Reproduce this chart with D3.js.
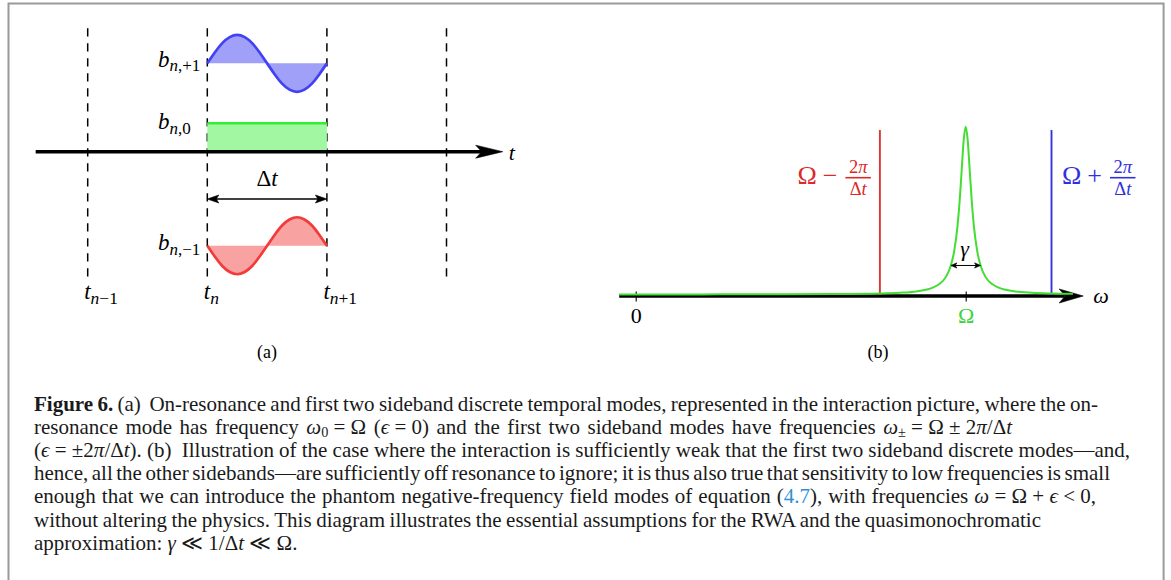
<!DOCTYPE html>
<html><head><meta charset="utf-8">
<script src="https://cdn.jsdelivr.net/npm/d3@7"></script>
<style>
html,body{margin:0;padding:0;background:#fff;}
svg{display:block;}
text{white-space:pre;}
</style></head>
<body><svg id="fig" width="1171" height="580"></svg>
<script>
// ================= DATA =================
// Panel (a): discrete temporal modes
const boundaryTimes = [-1, 0, 1, 2];                  // t_{n-1}, t_n, t_{n+1}, t_{n+2} (units of Δt from t_n)
const boundaryLabels = ["n−1", "n", "n+1", null];
const waveTimes  = [0, 0.0625, 0.125, 0.1875, 0.25, 0.3125, 0.375, 0.4375, 0.5, 0.5625, 0.625, 0.6875, 0.75, 0.8125, 0.875, 0.9375, 1];
const modePlus   = [0, 0.38, 0.71, 0.92, 1, 0.92, 0.71, 0.38, 0, -0.38, -0.71, -0.92, -1, -0.92, -0.71, -0.38, 0];
const modeZero   = [1, 1, 1, 1, 1, 1, 1, 1, 1, 1, 1, 1, 1, 1, 1, 1, 1];
const modeMinus  = [0, -0.38, -0.71, -0.92, -1, -0.92, -0.71, -0.38, 0, 0.38, 0.71, 0.92, 1, 0.92, 0.71, 0.38, 0];
const modeNames  = [",+1", ",0", ",−1"];
const modeLevels = [3.1, 0, -3.3];

// Panel (b): spectrum
const specOmega = [-0.5, 0, 2, 4, 6, 7.4, 8, 8.5, 9, 9.2, 9.4, 9.55, 9.65, 9.75, 9.82, 9.88, 9.94, 10,
                   10.06, 10.12, 10.18, 10.25, 10.35, 10.45, 10.6, 10.8, 11, 11.5, 12, 12.6, 13.25];
const specValue = [0.0004, 0.0004, 0.0007, 0.0012, 0.0026, 0.0062, 0.0105, 0.0185, 0.0407, 0.062, 0.105, 0.173, 0.257, 0.404, 0.567, 0.746, 0.922, 1,
                   0.922, 0.746, 0.567, 0.404, 0.257, 0.173, 0.105, 0.062, 0.0407, 0.0185, 0.0105, 0.0062, 0.004];
const sidebandOmega  = [7.4, 12.6];
const sidebandHeight = [0.98, 0.98];
const tickOmega  = [0, 10];
const tickLabels = ["0", "Ω"];
const gammaHalfWidth = 0.45;
const gammaLevel = 0.173;

// Caption  (\u2005 = math space around relations / binary operators)
const R = "\u2005", B = "\u2005";
const captionLines = [
  [["Figure 6.", "b"], [" (a)\u00A0 On-resonance and first two sideband discrete temporal modes, represented in the interaction picture, where the on-", ""]],
  [["resonance mode has frequency ", ""], ["ω", "i"], ["0", "s"], [R + "=" + R + "Ω (", ""], ["ϵ", "i"], [R + "=" + R + "0) and the first two sideband modes have frequencies ", ""], ["ω", "i"], ["±", "s"], [R + "=" + R + "Ω" + B + "±" + B + "2", ""], ["π", "i"], ["/Δ", ""], ["t", "i"]],
  [["(", ""], ["ϵ", "i"], [R + "=" + R + "±2", ""], ["π", "i"], ["/Δ", ""], ["t", "i"], ["). (b)\u00A0 Illustration of the case where the interaction is sufficiently weak that the first two sideband discrete modes—and,", ""]],
  [["hence, all the other sidebands—are sufficiently off resonance to ignore; it is thus also true that sensitivity to low frequencies is small", ""]],
  [["enough that we can introduce the phantom negative-frequency field modes of equation (", ""], ["4.7", "l"], ["), with frequencies ", ""], ["ω", "i"], [R + "=" + R + "Ω" + B + "+" + B, ""], ["ϵ", "i"], [R + "<" + R + "0,", ""]],
  [["without altering the physics. This diagram illustrates the essential assumptions for the RWA and the quasimonochromatic", ""]],
  [["approximation: ", ""], ["γ", "i"], [R + "≪" + R + "1/Δ", ""], ["t", "i"], [R + "≪" + R + "Ω.", ""]]
];
const captionEnds = [1098, 1012, 1130, 1110, 1096, 1041, null];

// ================= DRAWING =================
const SERIF = "'Liberation Serif','DejaVu Serif',serif";
const svg = d3.select("#fig");

// frame
svg.append("path").attr("d", "M8.5,580V3.6H1163.6V580")
  .attr("fill", "none").attr("stroke", "#9a9a9a").attr("stroke-width", 2);

function stealth(g, x, y, dir, len, half, notch, color) {
  const p = d3.path();
  p.moveTo(x, y);
  p.lineTo(x - dir * len, y - half);
  p.lineTo(x - dir * (len - notch), y);
  p.lineTo(x - dir * len, y + half);
  p.closePath();
  g.append("path").attr("d", p.toString()).attr("fill", color).attr("stroke", color).attr("stroke-width", 0.6).attr("stroke-linejoin", "miter");
}

function math(g, x, y, parts, size, anchor, fill, subShift, subRatio) {
  const t = g.append("text").attr("x", x).attr("y", y)
    .attr("font-family", SERIF).attr("font-size", size)
    .attr("text-anchor", anchor || "start").attr("fill", fill || "#000");
  let shift = 0;
  parts.forEach(p => {
    const s = p.sub ? (subShift || size * 0.22) : 0;
    t.append("tspan").attr("dy", s - shift)
      .attr("font-size", p.sub ? size * (subRatio || 0.72) : size)
      .attr("font-style", p.it ? "italic" : "normal")
      .text(p.t);
    shift = s;
  });
  return t;
}

// ---------- Panel (a) ----------
const gA = svg.append("g");
const xA = d3.scaleLinear().domain([0, 1]).range([207.3, 326.9]);
const yA = d3.scaleLinear().domain([0, 1]).range([151.7, 123.2]);

// dashed boundaries
gA.selectAll("line.bd").data(boundaryTimes).join("line")
  .attr("x1", d => xA(d)).attr("x2", d => xA(d))
  .attr("y1", yA(4.33)).attr("y2", yA(-4.5))
  .attr("stroke", "#000").attr("stroke-width", 1.5).attr("stroke-dasharray", "8.3,6.7");

const modes = [
  {vals: modePlus,  level: modeLevels[0], name: modeNames[0], line: "#4242f2", fill: "#a0a0f8", curve: d3.curveNatural, lw: 2.7},
  {vals: modeZero,  level: modeLevels[1], name: modeNames[1], line: "#33ee33", fill: "#a2f8a2", curve: d3.curveLinear,  lw: 2.4},
  {vals: modeMinus, level: modeLevels[2], name: modeNames[2], line: "#f23c3c", fill: "#f8a2a2", curve: d3.curveNatural, lw: 2.7}
];
modes.forEach(m => {
  const pts = waveTimes.map((t, i) => [t, m.vals[i]]);
  const area = d3.area().x(d => xA(d[0])).y0(yA(m.level)).y1(d => yA(m.level + d[1])).curve(m.curve);
  gA.append("path").attr("d", area(pts)).attr("fill", m.fill);
  const line = d3.line().x(d => xA(d[0])).y(d => yA(m.level + d[1])).curve(m.curve);
  gA.append("path").attr("d", line(pts)).attr("fill", "none").attr("stroke", m.line)
    .attr("stroke-width", m.lw).attr("stroke-linecap", "butt");
});

// time axis
gA.append("line").attr("x1", xA(-1.435)).attr("x2", xA(2.3)).attr("y1", yA(0)).attr("y2", yA(0))
  .attr("stroke", "#000").attr("stroke-width", 3.4);
stealth(gA, xA(2.47), yA(0), 1, 27, 6.5, 6, "#000");
math(gA, xA(2.52), 160, [{t: "t", it: true}], 22);

// Δt arrow
const yDt = 199;
gA.append("line").attr("x1", xA(0) + 4).attr("x2", xA(1) - 4).attr("y1", yDt).attr("y2", yDt)
  .attr("stroke", "#000").attr("stroke-width", 1.7);
stealth(gA, xA(1), yDt, 1, 11.5, 4, 2.5, "#000");
stealth(gA, xA(0), yDt, -1, 11.5, 4, 2.5, "#000");
math(gA, xA(0.5), 186, [{t: "Δ"}, {t: "t", it: true}], 23, "middle");

// mode labels
const modeLabelY = [66.5, 129, 250];
modes.forEach((m, i) => {
  math(gA, 158, modeLabelY[i], [{t: "b", it: true}, {t: "n", it: true, sub: true}, {t: m.name, sub: true}], 23, "start", "#000", 4.5, 0.74);
});

// boundary labels
boundaryTimes.forEach((d, i) => {
  if (!boundaryLabels[i]) return;
  const s = boundaryLabels[i];
  const parts = [{t: "t", it: true}, {t: "n", it: true, sub: true}];
  if (s.length > 1) parts.push({t: s.slice(1), sub: true});
  math(gA, xA(d) - 3.5, 299, parts, 23, "start", "#000", 5, 0.76);
});

gA.append("text").attr("x", xA(0.5)).attr("y", 358).attr("text-anchor", "middle")
  .attr("font-family", SERIF).attr("font-size", 18).text("(a)");

// ---------- Panel (b) ----------
const gB = svg.append("g");
const xB = d3.scaleLinear().domain([0, 10]).range([635.7, 965.7]);
const yB = d3.scaleLinear().domain([0, 1]).range([294.5, 126.7]);
const axisY = 296;

gB.append("line").attr("x1", xB(-0.5)).attr("x2", xB(13.0)).attr("y1", axisY).attr("y2", axisY)
  .attr("stroke", "#000").attr("stroke-width", 3.4);
stealth(gB, xB(13.56), axisY, 1, 24, 7, 6, "#000");

const axB = d3.axisBottom(xB).tickValues(tickOmega).tickFormat((d, i) => tickLabels[i])
  .tickSize(10).tickPadding(6);
const axG = gB.append("g").attr("transform", `translate(0,${axisY - 4.5})`).call(axB);
axG.select(".domain").remove();
axG.selectAll(".tick line").attr("stroke", "#000").attr("stroke-width", 1.1);
axG.selectAll(".tick text").attr("font-family", SERIF).attr("font-size", 22)
  .attr("fill", (d, i) => i === 1 ? "#3ed43e" : "#000");

// sideband lines
const sbColors = ["#dd3434", "#3434dd"];
gB.selectAll("line.sb").data(sidebandOmega).join("line")
  .attr("x1", d => xB(d)).attr("x2", d => xB(d))
  .attr("y1", yB(0)).attr("y2", (d, i) => yB(sidebandHeight[i]))
  .attr("stroke", (d, i) => sbColors[i]).attr("stroke-width", 1.9);

// Lorentzian
const spec = specOmega.map((w, i) => [w, specValue[i]]);
gB.append("path").attr("d", d3.line().x(d => xB(d[0])).y(d => yB(d[1])).curve(d3.curveMonotoneX)(spec))
  .attr("fill", "none").attr("stroke", "#44dd33").attr("stroke-width", 2);

// gamma arrow
const gx0 = xB(10 - gammaHalfWidth), gx1 = xB(10 + gammaHalfWidth), gy = yB(gammaLevel);
gB.append("line").attr("x1", gx0 + 2).attr("x2", gx1 - 2).attr("y1", gy).attr("y2", gy)
  .attr("stroke", "#000").attr("stroke-width", 1);
stealth(gB, gx1, gy, 1, 6, 2.6, 1.5, "#000");
stealth(gB, gx0, gy, -1, 6, 2.6, 1.5, "#000");
math(gB, xB(10) - 1, 256, [{t: "γ", it: true}], 22, "middle");

math(gB, xB(13.56) + 10, 303, [{t: "ω", it: true}], 22);

// sideband labels
function sideLabel(xStart, sign, color, measureOnly) {
  const g = gB.append("g").attr("fill", color);
  const t1 = g.append("text").attr("x", xStart).attr("y", 184).attr("font-family", SERIF).attr("font-size", 26).text("Ω");
  const w1 = t1.node().getComputedTextLength();
  const xs = xStart + w1 + 6;
  const t2 = g.append("text").attr("x", xs).attr("y", 184).attr("font-family", SERIF).attr("font-size", 26).text(sign);
  const w2 = t2.node().getComputedTextLength();
  const xf = xs + w2 + 8;
  const fw = 25.5;
  g.append("line").attr("x1", xf).attr("x2", xf + fw).attr("y1", 177.7).attr("y2", 177.7)
    .attr("stroke", color).attr("stroke-width", 1.6);
  g.append("text").attr("x", xf + fw / 2).attr("y", 173.3).attr("text-anchor", "middle")
    .attr("font-family", SERIF).attr("font-size", 18.5)
    .call(t => { t.append("tspan").text("2"); t.append("tspan").attr("font-style", "italic").text("π"); });
  g.append("text").attr("x", xf + fw / 2).attr("y", 194.5).attr("text-anchor", "middle")
    .attr("font-family", SERIF).attr("font-size", 18.5)
    .call(t => { t.append("tspan").text("Δ"); t.append("tspan").attr("font-style", "italic").text("t"); });
  if (measureOnly) g.remove();
  return xf + fw - xStart;
}
const redW = sideLabel(0, "−", "#dc2a2a", true);
sideLabel(xB(sidebandOmega[0]) - 9 - redW, "−", "#dc2a2a");
sideLabel(xB(sidebandOmega[1]) + 10.5, "+", "#3030dc");

gB.append("text").attr("x", 878).attr("y", 358).attr("text-anchor", "middle")
  .attr("font-family", SERIF).attr("font-size", 18).text("(b)");

// ---------- Caption ----------
const gC = svg.append("g");
const capX = 34, capY0 = 411, capDY = 23.1;
function drawCaption(fs) {
  gC.selectAll("*").remove();
  return captionLines.map((segs, li) => {
    const t = gC.append("text").attr("x", capX).attr("y", capY0 + li * capDY)
      .attr("font-family", SERIF).attr("font-size", fs).attr("fill", "#1a1a1a");
    let shift = 0;
    segs.forEach(([txt, st]) => {
      const s = st === "s" ? 2.5 : 0;
      const ts = t.append("tspan").attr("dy", s - shift).text(txt);
      if (st === "b") ts.attr("font-weight", "bold");
      if (st === "i") ts.attr("font-style", "italic");
      if (st === "s") ts.attr("font-size", fs * 0.68);
      if (st === "l") ts.attr("fill", "#2f8fd8");
      shift = s;
    });
    return t;
  });
}
let texts = drawCaption(18);
// font size balanced over the full lines
const full = [0, 1, 2, 3, 4, 5];
const r = d3.mean(full, i => (captionEnds[i] - capX) / texts[i].node().getComputedTextLength());
let fs = Math.max(16, Math.min(21, 18.3 * r));
texts = drawCaption(fs);
texts.forEach((t, i) => {
  if (captionEnds[i] == null) return;
  const w = t.node().getComputedTextLength();
  const str = captionLines[i].map(s => s[0]).join("");
  const nSp = (str.match(/[ \u00A0]/g) || []).length;
  if (nSp > 0) t.attr("word-spacing", ((captionEnds[i] - capX) - w) / nSp);
});
</script>
</body></html>
